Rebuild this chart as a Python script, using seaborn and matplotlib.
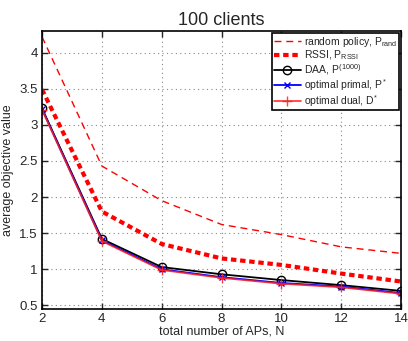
import matplotlib
matplotlib.use('Agg')
import matplotlib.pyplot as plt
import seaborn as sns
from matplotlib.ticker import FormatStrFormatter

# values
n_aps = [2, 4, 6, 8, 10, 12, 14]
random_policy = [4.22, 2.43, 1.95, 1.62, 1.48, 1.31, 1.22]
rssi = [3.49, 1.80, 1.35, 1.15, 1.06, 0.94, 0.83]
daa = [3.23, 1.42, 1.03, 0.93, 0.85, 0.78, 0.70]
opt_primal = [3.22, 1.40, 1.00, 0.89, 0.81, 0.76, 0.67]
opt_dual = [3.21, 1.39, 0.99, 0.88, 0.80, 0.75, 0.66]

sns.set_style('ticks')
plt.rcParams['font.family'] = ['Liberation Sans', 'DejaVu Sans']
plt.rcParams['mathtext.fontset'] = 'custom'
plt.rcParams['mathtext.rm'] = 'Liberation Sans'
plt.rcParams['mathtext.it'] = 'Liberation Sans'

fig = plt.figure(figsize=(4.08, 3.41), dpi=100)
ax = fig.add_axes([0.103, 0.094, 0.880, 0.815])

sns.lineplot(x=n_aps, y=random_policy, ax=ax, color='red', lw=1.0,
             linestyle=(0, (5, 3.5)), label=r'random policy, $P_{\rm rand}$')
sns.lineplot(x=n_aps, y=rssi, ax=ax, color='red', lw=3.0,
             linestyle=(0, (1.3, 0.9)), label=r'RSSI, $P_{\rm RSSI}$')
sns.lineplot(x=n_aps, y=daa, ax=ax, color='black', lw=1.3, marker='o',
             markersize=6, markerfacecolor='none', markeredgecolor='black',
             markeredgewidth=1.0, label=r'DAA, $P^{(1000)}$')
sns.lineplot(x=n_aps, y=opt_primal, ax=ax, color='blue', lw=1.3, marker='x',
             markersize=5, markeredgecolor='blue', markeredgewidth=1.0,
             label=r'optimal primal, $P^{*}$')
sns.lineplot(x=n_aps, y=opt_dual, ax=ax, color='#ff2020', lw=1.3, marker='+',
             markersize=7, markeredgecolor='#ff2020', markeredgewidth=1.0,
             alpha=0.85, label=r'optimal dual, $D^{*}$')

ax.set_xlim(2, 14)
ax.set_ylim(0.45, 4.3)
ax.set_xticks(n_aps)
ax.set_yticks([0.5, 1, 1.5, 2, 2.5, 3, 3.5, 4])
ax.yaxis.set_major_formatter(FormatStrFormatter('%g'))
ax.grid(True, color='#888888', linestyle=(0, (1, 3)), lw=0.8)
ax.tick_params(direction='in', length=4, labelsize=9.5, width=1.0,
               top=True, right=True, pad=3)
for s in ax.spines.values():
    s.set_linewidth(1.2)
    s.set_color('black')

ax.set_title('100 clients', fontsize=13, pad=4)
ax.set_xlabel('total number of APs, N', fontsize=9, labelpad=0)
ax.set_ylabel('average objective value', fontsize=9, labelpad=4)

leg = ax.legend(loc='upper right', fontsize=7.5, frameon=True, fancybox=False,
                handlelength=2.6, handletextpad=0.3, borderpad=0.15,
                labelspacing=0.0, borderaxespad=0.2)
leg.get_frame().set_edgecolor('black')
leg.get_frame().set_linewidth(1.2)
leg.get_frame().set_alpha(1)

fig.savefig('out.png', dpi=100)
